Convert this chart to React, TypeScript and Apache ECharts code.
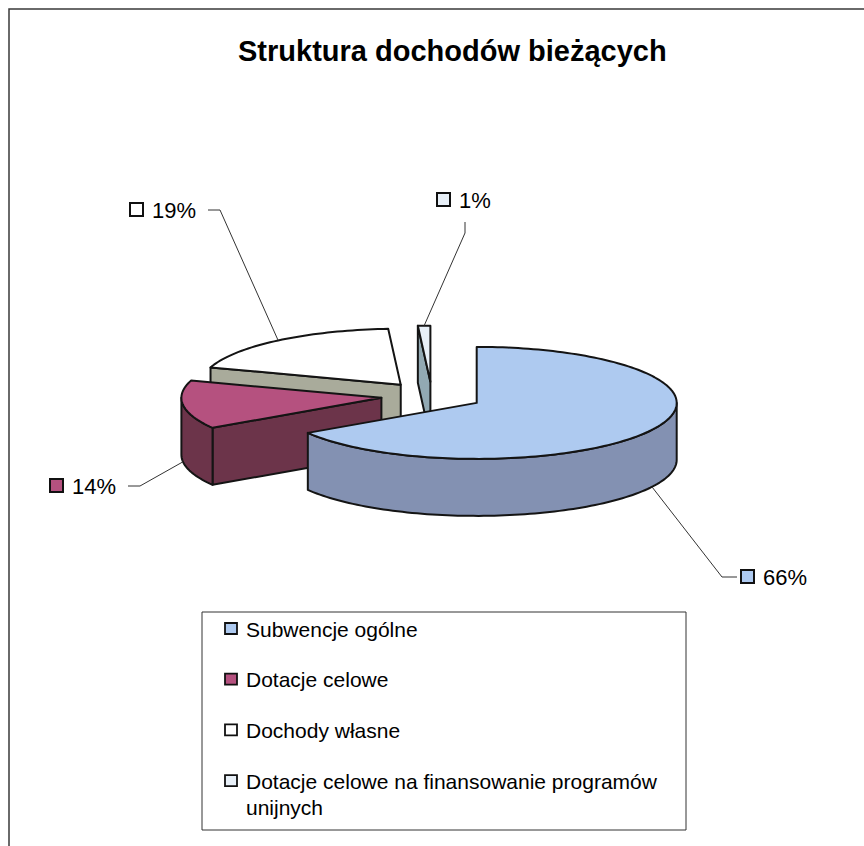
import React, { useEffect, useRef } from 'react';
import * as echarts from 'echarts';

// ---- data ----
const titleText = 'Struktura dochodów bieżących';
const categories = [
  'Subwencje ogólne',
  'Dotacje celowe',
  'Dochody własne',
  'Dotacje celowe na finansowanie programów unijnych',
];
const shares = [66, 14, 19, 1]; // percent of current income
const topColors = ['#aecaf0', '#b5517f', '#ffffff', '#e8f0f8'];
const sideColors = ['#8391b2', '#6c344a', '#a9ab9b', '#92a9b3'];

// ---- layout ----
const FONT = '"Liberation Sans", Arial, sans-serif';
const PIE = { cx: 432, cy: 396, rx: 200, ry: 56, depth: 57, explode: 51 };
const labelLayout = [
  { x: 741, y: 577, side: 'left' },
  { x: 50, y: 486, side: 'right' },
  { x: 130, y: 210, side: 'right' },
  { x: 437, y: 200, side: 'bottom' },
];
const LEGEND = { x: 202, y: 612, w: 484, h: 218, markerX: 225, textX: 246, firstRow: 629, rowGap: 50.7, maxChars: 41 };

const total = shares.reduce((a, b) => a + b, 0);
const seriesData = shares.map((v, i) => ({
  name: categories[i],
  value: [v, shares.slice(0, i).reduce((a, b) => a + b, 0)],
}));

const rad = (d: number) => (d * Math.PI) / 180;

function wrapWords(text: string, maxChars: number) {
  const words = text.split(' ');
  const lines: string[] = [];
  let cur = '';
  words.forEach((w) => {
    const next = cur ? cur + ' ' + w : w;
    if (next.length > maxChars && cur) {
      lines.push(cur);
      cur = w;
    } else {
      cur = next;
    }
  });
  if (cur) lines.push(cur);
  return lines.join('\n');
}

function renderItem(params: any, api: any) {
  const i = params.dataIndex;
  const v = api.value(0) as number;
  const before = api.value(1) as number;
  const a0 = (before / total) * 360;
  const a1 = ((before + v) / total) * 360;
  const am = (a0 + a1) / 2;
  const { rx, ry, depth, explode } = PIE;
  const k = ry / rx;
  const ox = PIE.cx + explode * Math.sin(rad(am));
  const oy = PIE.cy - explode * k * Math.cos(rad(am));
  const pt = (a: number, dy = 0) => [ox + rx * Math.sin(rad(a)), oy - ry * Math.cos(rad(a)) + dy];
  const arc = (s: number, e: number, dy = 0) => {
    const n = Math.max(2, Math.ceil(Math.abs(e - s) / 1.5));
    const pts: number[][] = [];
    for (let j = 0; j <= n; j++) pts.push(pt(s + ((e - s) * j) / n, dy));
    return pts;
  };
  const zBase = Math.round(oy * 10);
  const stroke = '#141414';
  const lw = 2;
  const children: any[] = [];
  const side = sideColors[i];
  // radial walls
  const wall = (a: number) => {
    const p = pt(a);
    return {
      type: 'polygon',
      z2: zBase + 1,
      shape: { points: [[ox, oy], p, [p[0], p[1] + depth], [ox, oy + depth]] },
      style: { fill: side, stroke, lineWidth: lw, lineJoin: 'round' },
    };
  };
  if (Math.sin(rad(a0)) < -1e-6) children.push(wall(a0));
  if (Math.sin(rad(a1)) > 1e-6) children.push(wall(a1));
  // outer front wall
  const s = Math.max(a0, 90);
  const e = Math.min(a1, 270);
  if (e > s) {
    const pts = arc(s, e).concat(arc(e, s, depth));
    children.push({
      type: 'polygon',
      z2: zBase + 2,
      shape: { points: pts },
      style: { fill: side, stroke, lineWidth: lw, lineJoin: 'round' },
    });
  }
  // top face
  children.push({
    type: 'polygon',
    z2: zBase + 3,
    shape: { points: [[ox, oy]].concat(arc(a0, a1)) },
    style: { fill: topColors[i], stroke, lineWidth: lw, lineJoin: 'round' },
  });
  // data label with leader line
  const L = labelLayout[i];
  let anchor = pt(am);
  if (Math.cos(rad(am)) < 0) anchor = [anchor[0], anchor[1] + depth];
  let start: number[];
  let elbow: number[];
  if (L.side === 'left') {
    start = [L.x - 4, L.y];
    elbow = [L.x - 19, L.y];
  } else if (L.side === 'right') {
    start = [L.x + 78, L.y];
    elbow = [L.x + 90, L.y];
  } else {
    start = [L.x + 28, L.y + 22];
    elbow = [L.x + 28, L.y + 33];
  }
  children.push({
    type: 'polyline',
    z2: 9000,
    shape: { points: [start, elbow, anchor] },
    style: { fill: null, stroke: '#333', lineWidth: 1 },
  });
  children.push({
    type: 'rect',
    z2: 9001,
    shape: { x: L.x, y: L.y - 7, width: 13, height: 13 },
    style: { fill: topColors[i], stroke: '#111', lineWidth: 2 },
  });
  children.push({
    type: 'text',
    z2: 9002,
    style: {
      text: `${v}%`,
      x: L.x + 22,
      y: L.y,
      fill: '#000',
      fontSize: 22,
      fontFamily: FONT,
      verticalAlign: 'middle',
      align: 'left',
    },
  });
  return { type: 'group', children };
}

function buildLegend() {
  const els: any[] = [
    {
      type: 'rect',
      shape: { x: LEGEND.x, y: LEGEND.y, width: LEGEND.w, height: LEGEND.h },
      style: { fill: '#fff', stroke: '#333', lineWidth: 1 },
      z: 1,
    },
  ];
  categories.forEach((name, i) => {
    const cy = LEGEND.firstRow + i * LEGEND.rowGap;
    els.push({
      type: 'rect',
      shape: { x: LEGEND.markerX, y: cy - 6, width: 12, height: 11 },
      style: { fill: topColors[i], stroke: '#111', lineWidth: 1.8 },
      z: 2,
    });
    els.push({
      type: 'text',
      x: LEGEND.textX,
      y: cy - 13,
      style: {
        text: wrapWords(name, LEGEND.maxChars),
        fill: '#000',
        fontSize: 21,
        fontFamily: FONT,
        lineHeight: 26,
        verticalAlign: 'top',
        align: 'left',
      },
      z: 2,
    });
  });
  return els;
}

export default function App() {
  const ref = useRef<HTMLDivElement>(null);
  useEffect(() => {
    if (!ref.current) return;
    const chart = echarts.init(ref.current, null, { renderer: 'svg' });
    chart.setOption({
      animation: false,
      backgroundColor: '#fff',
      title: {
        text: titleText,
        left: 233,
        top: 31,
        textStyle: { fontSize: 29, fontWeight: 'bold', fontFamily: FONT, color: '#000' },
      },
      graphic: [
        {
          type: 'rect',
          shape: { x: 9, y: 9, width: 900, height: 900 },
          style: { fill: null, stroke: '#3a3a3a', lineWidth: 1.5 },
          z: 0,
          silent: true,
        },
        ...buildLegend(),
      ],
      series: [
        {
          type: 'custom',
          coordinateSystem: 'none',
          silent: true,
          renderItem,
          data: seriesData,
        },
      ],
    });
    return () => chart.dispose();
  }, []);
  return (
    <div
      ref={ref}
      style={{ position: 'absolute', left: 0, top: 0, width: 864, height: 846 }}
    />
  );
}
